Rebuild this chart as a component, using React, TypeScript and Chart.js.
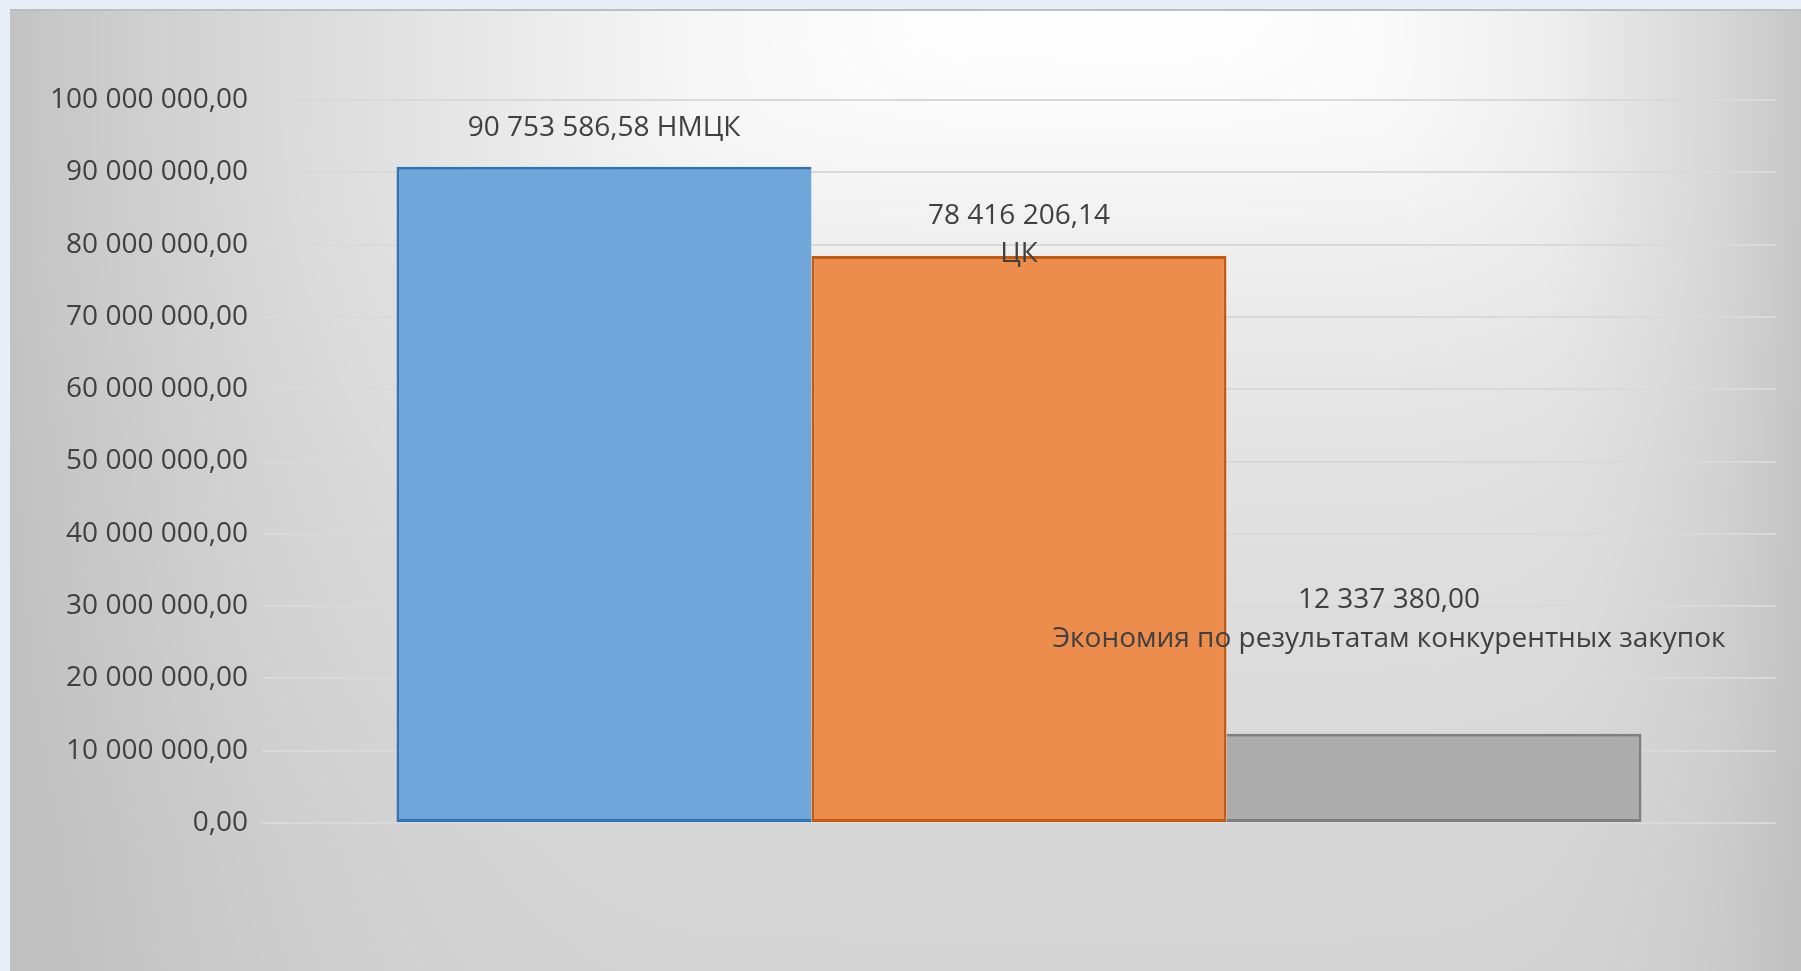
import React, { useEffect, useRef } from "react";
import { Chart, registerables } from "chart.js";

Chart.register(...registerables);

// ---- data ----
const CATEGORIES: string[] = [""];
const SERIES_NAMES: string[] = ["НМЦК", "ЦК", "Экономия по результатам конкурентных закупок"];
const SERIES_VALUES: number[] = [90753586.58, 78416206.14, 12337380.0];
const SERIES_FILL: string[] = ["#70a6d9", "#ec8c4d", "#acacac"];
const SERIES_BORDER: string[] = ["#2e75b6", "#c55a11", "#7f7f7f"];
const SERIES_BORDER_SKIP: (string | boolean)[] = ["right", false, "left"];
const Y_MIN = 0;
const Y_MAX = 100000000;
const Y_STEP = 10000000;

const FONT_FAMILY = "'Open Sans', 'Noto Sans', sans-serif";
const TEXT_COLOR = "#404040";

// background shading profiles (page px -> darkness below white)
const BG_X = [10, 34, 230, 460, 690, 920, 1150, 1380, 1550, 1723, 1801];
const BG_DX = [60, 57, 41, 25, 9, 2, 0, 5, 17, 41, 57];
const BG_Y = [10, 115, 230, 345, 460, 593, 843, 971];
const BG_DY = [0, 5, 15, 23, 29, 33, 41, 43];

function fmt(v: number): string {
  const [i, d] = Math.abs(v).toFixed(2).split(".");
  const g = i.replace(/\B(?=(\d{3})+(?!\d))/g, " ");
  return g + "," + d;
}

// label text: first series on one line, others on two lines (as in the reference)
const LABEL_LINES: string[][] = SERIES_VALUES.map((v, i) =>
  i === 0 ? [fmt(v) + " " + SERIES_NAMES[i]] : [fmt(v), SERIES_NAMES[i]]
);

const barLabelPlugin = {
  id: "barLabels",
  afterDatasetsDraw(chart: any, _args: any, opts: any) {
    const ctx = chart.ctx as CanvasRenderingContext2D;
    ctx.save();
    ctx.font = `${opts.size}px ${FONT_FAMILY}`;
    ctx.fillStyle = TEXT_COLOR;
    ctx.textAlign = "center";
    ctx.textBaseline = "alphabetic";
    chart.data.datasets.forEach((_ds: any, i: number) => {
      const el = chart.getDatasetMeta(i).data[0];
      if (!el) return;
      const off = opts.offsets[i];
      LABEL_LINES[i].forEach((line, k) => {
        ctx.fillText(line, el.x + off.dx, el.y + off.dy + k * off.lh);
      });
    });
    ctx.restore();
  },
};

function interp(xs: number[], vs: number[], x: number): number {
  if (x <= xs[0]) return vs[0];
  for (let k = 1; k < xs.length; k++) {
    if (x <= xs[k]) {
      const f = (x - xs[k - 1]) / (xs[k] - xs[k - 1]);
      return vs[k - 1] + f * (vs[k] - vs[k - 1]);
    }
  }
  return vs[vs.length - 1];
}

function paintBackground(cv: HTMLCanvasElement) {
  const ctx = cv.getContext("2d");
  if (!ctx) return;
  const W = cv.width;
  const H = cv.height;
  const img = ctx.createImageData(W, H);
  const d = img.data;
  const offX = 10; // page offset of this canvas
  const offY = 9;
  const p = 3;
  const dxs = new Float64Array(W);
  for (let px = 0; px < W; px++) dxs[px] = Math.pow(interp(BG_X, BG_DX, px + offX), p);
  for (let py = 0; py < H; py++) {
    const dyp = Math.pow(interp(BG_Y, BG_DY, py + offY), p);
    for (let px = 0; px < W; px++) {
      const dark = Math.pow(dxs[px] + dyp, 1 / p);
      let v = Math.max(192, 255 - dark);
      if (py < 2) v = 189;
      const o = (py * W + px) * 4;
      d[o] = v;
      d[o + 1] = v;
      d[o + 2] = v;
      d[o + 3] = 255;
    }
  }
  ctx.putImageData(img, 0, 0);
}

export default function App() {
  const ref = useRef<HTMLCanvasElement | null>(null);
  const bgRef = useRef<HTMLCanvasElement | null>(null);

  useEffect(() => {
    if (bgRef.current) paintBackground(bgRef.current);
    if (!ref.current) return;
    const chart = new Chart(ref.current, {
      type: "bar",
      data: {
        labels: CATEGORIES,
        datasets: SERIES_VALUES.map((v, i) => ({
          label: SERIES_NAMES[i],
          data: [v],
          backgroundColor: SERIES_FILL[i],
          borderColor: SERIES_BORDER[i],
          borderWidth: 3,
          borderSkipped: SERIES_BORDER_SKIP[i] as any,
          categoryPercentage: 0.8223,
          barPercentage: 1,
        })),
      },
      options: {
        responsive: false,
        animation: false,
        layout: { padding: { left: 0, right: 25, top: 90, bottom: 148 } },
        plugins: {
          legend: { display: false },
          tooltip: { enabled: false },
          barLabels: {
            size: 28,
            offsets: [
              { dx: 0, dy: -31, lh: 38 },
              { dx: 0, dy: -32, lh: 38 },
              { dx: -45, dy: -126, lh: 39 },
            ],
          },
        } as any,
        scales: {
          x: { display: false },
          y: {
            min: Y_MIN,
            max: Y_MAX,
            afterFit: (s: any) => {
              s.width = 252;
            },
            ticks: {
              stepSize: Y_STEP,
              padding: 14,
              color: TEXT_COLOR,
              font: { family: FONT_FAMILY, size: 28 },
              callback: (v: any) => fmt(Number(v)),
            },
            grid: { color: "#d9d9d9", lineWidth: 2, drawTicks: false },
            border: { display: false },
          },
        },
      },
      plugins: [barLabelPlugin],
    });
    return () => chart.destroy();
  }, []);

  return (
    <div style={{ position: "fixed", left: 0, top: 0, width: 1801, height: 971, background: "#e8eef7", overflow: "hidden" }}>
      <canvas ref={bgRef} width={1791} height={962} style={{ position: "absolute", left: 10, top: 9, width: 1791, height: 962 }} />
      <canvas ref={ref} width={1791} height={961} style={{ position: "absolute", left: 10, top: 10, width: 1791, height: 961 }} />
    </div>
  );
}
